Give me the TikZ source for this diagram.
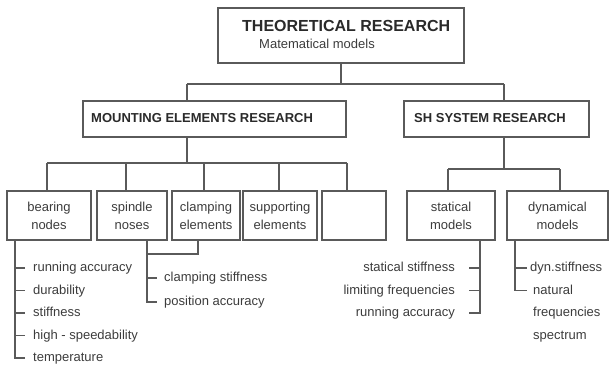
\documentclass[tikz,border=0pt]{standalone}
\usepackage{fontspec}
\setmainfont{Liberation Sans}
\definecolor{linec}{HTML}{5A5A5A}
\definecolor{txt}{HTML}{3C3C3C}
\definecolor{headc}{HTML}{2A2A2A}
\begin{document}
\begin{tikzpicture}[x=1pt,y=-1pt,
  line/.style={draw=linec, line width=1.1pt},
  box/.style={draw=linec, line width=1.1pt, rectangle, inner sep=0pt, text=txt,
    align=center, font=\fontsize{13}{18}\selectfont},
  smallbox/.style={box, minimum height=49pt},
  item/.style={text=txt, inner sep=0pt, font=\fontsize{13}{15}\selectfont,
    text height=9.5pt, text depth=2.5pt},
  head/.style={text=headc, inner sep=0pt, font=\fontsize{13}{15}\selectfont\bfseries,
    text height=9.5pt, text depth=2.5pt, anchor=west},
  title/.style={text=headc, inner sep=0pt, font=\fontsize{16}{18}\selectfont\bfseries,
    text height=11.5pt, text depth=0pt, anchor=west}]
\useasboundingbox (0,0) rectangle (609,367);

% boxes
\node[box, minimum width=246pt, minimum height=55pt] (top) at (341,35.5) {};
\node[title] (tt) at (242,26) {THEORETICAL RESEARCH};
\node[item, anchor=west] (tm) at (259,45) {Matematical models};

\node[box, minimum width=263pt, minimum height=36pt] (mount) at (214.5,119) {};
\node[head] (mh) at (91,119) {MOUNTING ELEMENTS RESEARCH};
\node[box, minimum width=185pt, minimum height=36pt] (sh) at (496.5,119) {};
\node[head] (shh) at (414,119) {SH SYSTEM RESEARCH};

\node[smallbox, minimum width=84pt] (bearing) at (49,215.5) {bearing\\nodes};
\node[smallbox, minimum width=70pt] (spindle) at (132,215.5) {spindle\\noses};
\node[smallbox, minimum width=68pt] (clamp) at (206,215.5) {clamping\\elements};
\node[smallbox, minimum width=74pt] (support) at (280,215.5) {supporting\\elements};
\node[smallbox, minimum width=64pt] (empty) at (354,215.5) {};
\node[smallbox, minimum width=88pt] (stat) at (451,215.5) {statical\\models};
\node[smallbox, minimum width=101pt] (dyn) at (557.5,215.5) {dynamical\\models};

% top level connectors
\coordinate (hA) at (187,84);
\coordinate (hB) at (504,84);
\draw[line] (top.south) |- (hA);
\draw[line] (top.south) |- (hB);
\draw[line] (hA) -- (mount.north -| hA);
\draw[line] (hB) -- (sh.north -| hB);

% mounting children
\coordinate (mB) at (187,163);
\coordinate (m1) at (47,163);
\coordinate (m2) at (126,163);
\coordinate (m3) at (204,163);
\coordinate (m4) at (279,163);
\coordinate (m5) at (347,163);
\draw[line] (mount.south -| mB) -- (mB);
\draw[line] (m1) -- (m5);
\draw[line] (m1) -- (bearing.north -| m1);
\draw[line] (m2) -- (spindle.north -| m2);
\draw[line] (m3) -- (clamp.north -| m3);
\draw[line] (m4) -- (support.north -| m4);
\draw[line] (m5) -- (empty.north -| m5);

% SH children
\coordinate (sB) at (504,169);
\coordinate (s1) at (448,169);
\coordinate (s2) at (560,169);
\draw[line] (sh.south -| sB) -- (sB);
\draw[line] (s1) -- (s2);
\draw[line] (s1) -- (stat.north -| s1);
\draw[line] (s2) -- (dyn.north -| s2);

% bearing list
\node[item, anchor=west] (r1) at (33,268) {running accuracy};
\node[item, anchor=west] (r2) at (33,290.5) {durability};
\node[item, anchor=west] (r3) at (33,313) {stiffness};
\node[item, anchor=west] (r4) at (33,335.5) {high - speedability};
\node[item, anchor=west] (r5) at (33,358) {temperature};
\coordinate (bx) at (15,0);
\draw[line] (bearing.south -| bx) |- ([xshift=-8pt]r5.west);
\foreach \n in {r1,r2,r3,r4}
  \draw[line] (\n.west -| bx) -- ([xshift=-8pt]\n.west);

% spindle / clamping list
\node[item, anchor=west] (cs1) at (164,278) {clamping stiffness};
\node[item, anchor=west] (cs2) at (164,302) {position accuracy};
\coordinate (sx) at (147,254);
\coordinate (cx) at (198,254);
\draw[line] (clamp.south -| cx) -- (cx) -- (sx);
\draw[line] (spindle.south -| sx) |- ([xshift=-7pt]cs2.west);
\draw[line] (cs1.west -| sx) -- ([xshift=-7pt]cs1.west);

% statical list
\node[item, anchor=east] (st1) at (455,268) {statical stiffness};
\node[item, anchor=east] (st2) at (455,290.5) {limiting frequencies};
\node[item, anchor=east] (st3) at (455,313) {running accuracy};
\coordinate (tx) at (480,0);
\draw[line] (stat.south -| tx) |- ([xshift=14pt]st3.east);
\draw[line] ([xshift=14pt]st1.east) -- (st1.east -| tx);
\draw[line] ([xshift=14pt]st2.east) -- (st2.east -| tx);

% dynamical list
\node[item, anchor=west] (dy1) at (530,268) {dyn.stiffness};
\node[item, anchor=west] (dy2) at (533,290.5) {natural};
\node[item, anchor=west] (dy3) at (533,313) {frequencies};
\node[item, anchor=west] (dy4) at (533,335.5) {spectrum};
\coordinate (dx) at (515,0);
\draw[line] (dyn.south -| dx) |- ([xshift=-6pt]dy2.west);
\draw[line] (dy1.west -| dx) -- ([xshift=-3pt]dy1.west);
\end{tikzpicture}
\end{document}
